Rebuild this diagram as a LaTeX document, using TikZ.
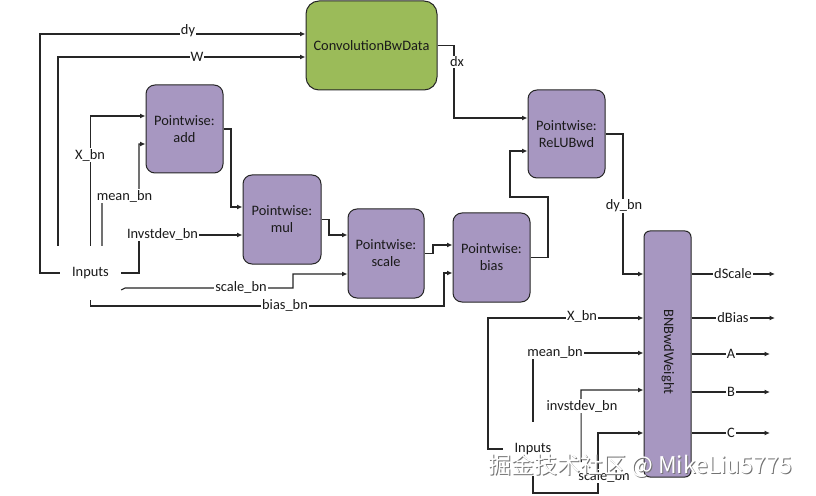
\documentclass[tikz,border=0pt]{standalone}
\usepackage{fontspec}
\setmainfont{Carlito}
\newfontfamily\cjkfont{Noto Sans CJK SC}
\usetikzlibrary{arrows.meta,backgrounds,calc}
\definecolor{boxpurple}{HTML}{A797C1}
\definecolor{boxgreen}{HTML}{9BBB59}
\definecolor{linecol}{HTML}{262626}
\definecolor{txtcol}{HTML}{1A1A1A}
\begin{document}
\begin{tikzpicture}[x=1bp,y=-1bp,
  every node/.style={font=\fontsize{14.4bp}{17bp}\selectfont, text=txtcol},
  pbox/.style={draw=linecol, line width=1bp, fill=boxpurple, rounded corners=9bp, align=center, inner sep=0pt},
  gbox/.style={draw=linecol, line width=1bp, fill=boxgreen, rounded corners=13bp, align=center, inner sep=0pt},
  lbl/.style={fill=white, inner sep=1bp},
  inp/.style={inner sep=0pt, minimum height=54bp},
  conn/.style={draw=linecol, line width=1.1bp},
  arr/.style={conn, -{Latex[length=5.5bp,width=5bp]}},
]
\useasboundingbox (0,0) rectangle (816,496);

% boxes
\node[gbox, minimum width=131bp, minimum height=89bp] (conv) at (371.5,45.5) {ConvolutionBwData};
\node[pbox, minimum width=77bp, minimum height=88bp] (add) at (184.5,129) {Pointwise:\\add};
\node[pbox, minimum width=78bp, minimum height=89bp] (mul) at (282,219.5) {Pointwise:\\mul};
\node[pbox, minimum width=76bp, minimum height=89bp] (scale) at (386,253.5) {Pointwise:\\scale};
\node[pbox, minimum width=77bp, minimum height=89bp] (bias) at (491.5,257.5) {Pointwise:\\bias};
\node[pbox, minimum width=77bp, minimum height=88bp] (relu) at (566.5,134) {Pointwise:\\ReLUBwd};
\node[pbox, rounded corners=6bp, minimum width=47bp, minimum height=246bp] (bnw) at (667.5,354) {};
\node[rotate=-90] (bnwtxt) at (668,352) {BNBwdWeight};

% inputs
\node[inp, minimum width=61bp] (inputs) at (90.5,273) {Inputs};
\node[inp, minimum width=60bp] (inputs2) at (533,449) {Inputs};

% labels
\node[lbl] (ldy) at (188,31) {dy};
\node[lbl] (lw) at (197,57) {W};
\node[lbl] (ldx) at (457,62) {dx};
\node[lbl] (lxbn) at (90,155) {X\_bn};
\node[lbl] (lmean) at (124.5,196) {mean\_bn};
\node[lbl] (linv) at (162.5,234.5) {Invstdev\_bn};
\node[lbl] (lscale) at (241,287) {scale\_bn};
\node[lbl] (lbias) at (285,305) {bias\_bn};
\node[lbl] (ldybn) at (624,206) {dy\_bn};
\node[lbl] (lxbn2) at (582,316) {X\_bn};
\node[lbl] (lmean2) at (555,352) {mean\_bn};
\node[lbl] (linv2) at (582,406) {invstdev\_bn};
\node[lbl] (lscale2) at (604,476) {scale\_bn};
\node[lbl] (ldscale) at (733,274) {dScale};
\node[lbl] (ldbias) at (733,318) {dBias};
\node[lbl] (la) at (731,354) {A};
\node[lbl] (lb) at (731,392) {B};
\node[lbl] (lc) at (731,433) {C};

\coordinate (o1) at (775,274);
\coordinate (o2) at (775,318);
\coordinate (o3) at (770,354);
\coordinate (o4) at (770,392);
\coordinate (o5) at (770,433);

\begin{scope}[on background layer]
\fill[white] (0,0) rectangle (816,496);
% left inputs
\draw[arr] (inputs.west) -- (40,273) -- (40,34) -- (conv.west |- 0,34);
\draw[arr] (inputs.north -| 58,0) -- (58,57) -- (conv.west |- 0,57);
\draw[arr] (inputs.north) -- (inputs.north |- 0,116) -- (add.west |- 0,116);
\draw[arr] ($(inputs.north)+(11.5,0)$) -- (102,196) -- (139,196) -- (139,144) -- (add.west |- 0,144);
\draw[arr] (inputs.east) -- (139,273) -- (139,235) -- (mul.west |- 0,235);
\draw[arr] ($(inputs.east)+(0,17)$) -- (125,288) -- (293,288) -- (293,274) -- (scale.west |- 0,274);
\draw[arr] (inputs.south) -- (90.5,306) -- (444,306) -- (444,273) -- (bias.west |- 0,273);
% chain
\draw[arr] (add.east) -- (231,129) -- (231,207) -- (mul.west |- 0,207);
\draw[arr] (mul.east) -- (329,219.5) -- (329,235) -- (scale.west |- 0,235);
\draw[arr] (scale.east) -- (433,253.5) -- (433,245) -- (bias.west |- 0,245);
\draw[arr] (bias.east) -- (548,257.5) -- (548,197) -- (510,197) -- (510,151) -- (relu.west |- 0,151);
\draw[arr] (conv.east) -- (454,45.5) -- (454,118) -- (relu.west |- 0,118);
\draw[arr] (relu.east) -- (623,134) -- (623,274) -- (bnw.west |- 0,274);
% bottom inputs
\draw[arr] (inputs2.west) -- (488,449) -- (488,318) -- (bnw.west |- 0,318);
\draw[arr] (inputs2.north) -- (533,353) -- (bnw.west |- 0,353);
\draw[arr] ($(inputs2.east)+(18,13)$) -- (581,390) -- (bnw.west |- 0,390);
\draw[arr] (inputs2.south) -- (533,493) -- (598,493) -- (598,433) -- (bnw.west |- 0,433);
% outputs
\draw[arr] (bnw.east |- o1) -- (o1);
\draw[arr] (bnw.east |- o2) -- (o2);
\draw[arr] (bnw.east |- o3) -- (o3);
\draw[arr] (bnw.east |- o4) -- (o4);
\draw[arr] (bnw.east |- o5) -- (o5);
\end{scope}

% watermark
\node[font=\cjkfont\fontsize{23bp}{25bp}\selectfont, text=black!55] (wmshadow) at (641,467) {掘金技术社区 @ MikeLiu5775};
\node[font=\cjkfont\fontsize{23bp}{25bp}\selectfont, text=white] (wm) at (640,466) {掘金技术社区 @ MikeLiu5775};
\end{tikzpicture}
\end{document}
